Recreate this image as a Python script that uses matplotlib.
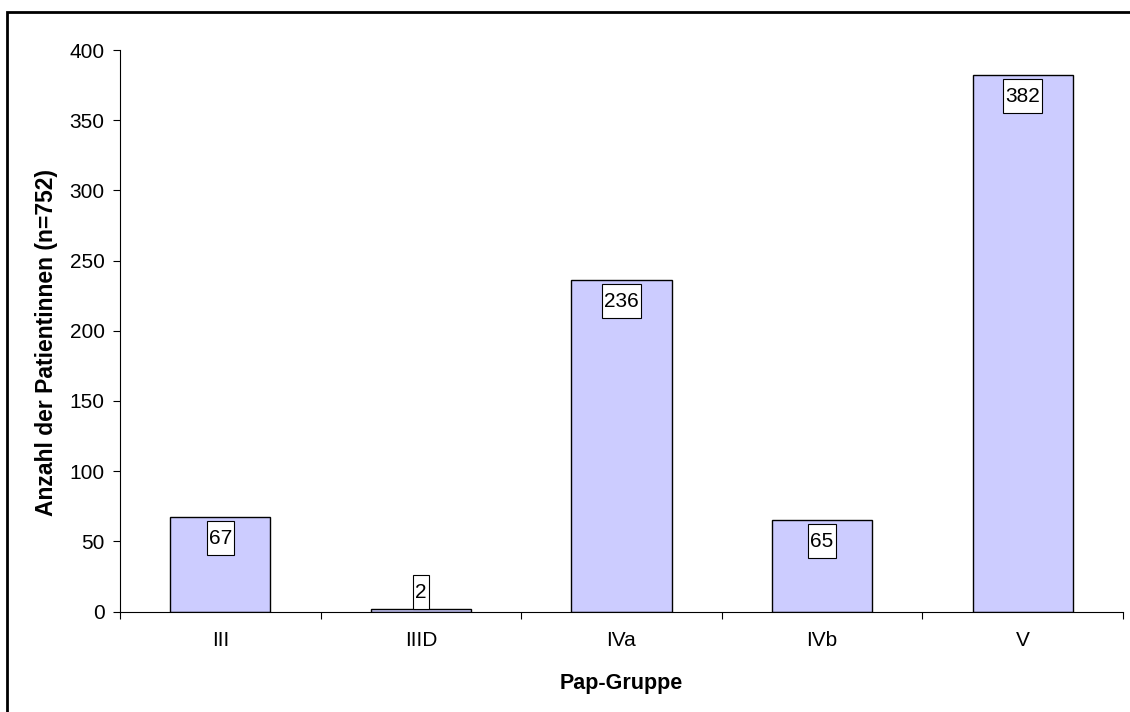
import matplotlib
matplotlib.use("Agg")
import matplotlib.pyplot as plt
from matplotlib.path import Path
from matplotlib.patches import Rectangle

categories = ["III", "IIID", "IVa", "IVb", "V"]
values = [67, 2, 236, 65, 382]
y_ticks = [0, 50, 100, 150, 200, 250, 300, 350, 400]

plt.rcParams['font.family'] = ['Liberation Sans', 'DejaVu Sans']

W, H = 1130, 712
fig = plt.figure(figsize=(W / 100, H / 100), dpi=100)

# figure frame (only left/top visible; extends past image)
fig.patches.append(Rectangle((7 / W, -0.1), 1.2, 1 - 12 / H + 0.1,
                             transform=fig.transFigure, fill=False,
                             edgecolor='black', linewidth=2, zorder=0))

ax = fig.add_axes([120 / W, 1 - 611.5 / H, (1123 - 120) / W, (611.5 - 50) / H])

x = list(range(len(categories)))
ax.bar(x, values, width=0.5, color='#CCCCFF', edgecolor='black', linewidth=1, zorder=2)

ax.set_xlim(-0.5, len(categories) - 0.5)
ax.set_ylim(0, 400)
ax.set_yticks(y_ticks)
ax.tick_params(axis='y', direction='out', length=5, width=0.8, labelsize=15, pad=6)

ax.set_xticks([i - 0.5 for i in range(len(categories) + 1)])
ax.set_xticklabels([])
ax.set_xticks(x, minor=True)
ax.set_xticklabels(categories, minor=True)
ax.tick_params(axis='x', which='major', direction='out', length=5, width=0.8)
ax.tick_params(axis='x', which='minor', length=0, labelsize=15, pad=14)

for s in ['top', 'right']:
    ax.spines[s].set_visible(False)
for s in ['left', 'bottom']:
    ax.spines[s].set_linewidth(0.8)

fig.text(47 / W, 1 - 342 / H, "Anzahl der Patientinnen (n=752)", rotation=90,
         ha='center', va='center', fontsize=16.5, fontweight='bold')
fig.text(621.5 / W, 1 - 683 / H, "Pap-Gruppe",
         ha='center', va='center', fontsize=15.5, fontweight='bold')


def label_box(x0, y0, width, height, mutation_size):
    px = 2.0
    top = 8.0
    bot = 7.0
    xs = [x0 - px, x0 + width + px, x0 + width + px, x0 - px, x0 - px]
    ys = [y0 - bot, y0 - bot, y0 + height + top, y0 + height + top, y0 - bot]
    return Path(list(zip(xs, ys)), closed=True)


for xi, v in zip(x, values):
    if v > 30:
        ax.annotate(str(v), (xi, v), xytext=(0, -8.2), textcoords='offset points',
                    ha='center', va='top', fontsize=15, zorder=5,
                    bbox=dict(boxstyle=label_box, facecolor='white',
                              edgecolor='black', linewidth=0.8))
    else:
        ax.annotate(str(v), (xi, v), xytext=(0, 5), textcoords='offset points',
                    ha='center', va='bottom', fontsize=15, zorder=5,
                    bbox=dict(boxstyle=label_box, facecolor='white',
                              edgecolor='black', linewidth=0.8))

fig.savefig("out.png", dpi=100)
